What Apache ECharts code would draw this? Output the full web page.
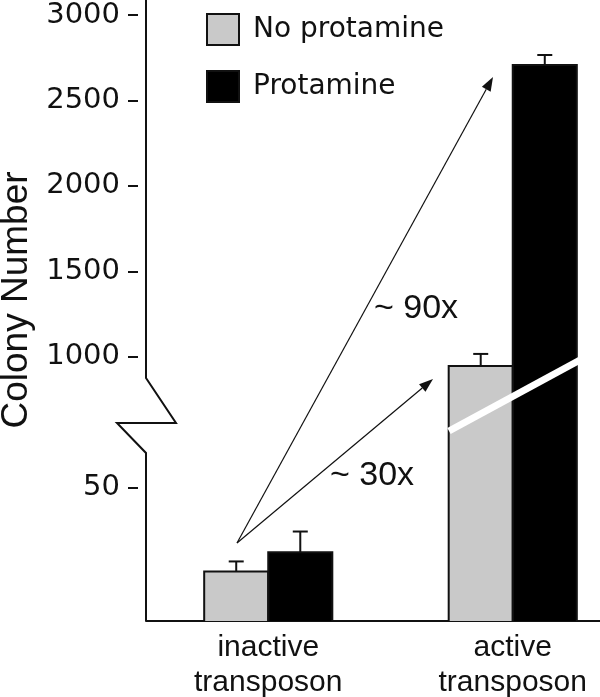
<!DOCTYPE html>
<html><head><meta charset="utf-8">
<script src="https://cdn.jsdelivr.net/npm/echarts@6/dist/echarts.min.js"></script>
<style>html,body{margin:0;padding:0;background:#fff}#c{width:600px;height:697px}</style>
</head><body><div id="c"></div>
<script>
// ---- data ----
const categories = ['inactive\ntransposon', 'active\ntransposon'];
const seriesNames = ['No protamine', 'Protamine'];
const noProtamine = [18.5, 946];
const protamine = [25.7, 2707];
const noProtamineErr = [3.8, 70];
const protamineErr = [7.8, 59];
const upperTicks = [1000, 1500, 2000, 2500, 3000];
const lowerTicks = [50];
const foldLabels = ['~ 90x', '~ 30x'];

// ---- layout / style ----
const LOWER = {top: 453, height: 168, min: 0, max: 62.9};
const UPPER = {top: 0, height: 453, min: 436, max: 3088};
const GRID_LEFT = 146, GRID_WIDTH = 489;
const GRAY = '#c9c9c9', BLACK = '#000', INK = '#111';
const BAR_FRAC = 0.262;
const TICK_FONT = 'DejaVu Sans';
const TEXT_FONT = 'Liberation Sans';

const chart = echarts.init(document.getElementById('c'));

function makeOutline(sign) {
  return function (params, api) {
    const idx = api.value(0), v = api.value(1), e = api.value(2);
    const cs = params.coordSys;
    const yBottom = cs.y + cs.height;
    const w = api.size([1, 0])[0] * BAR_FRAC;
    const cx = api.coord([idx, v])[0];
    const x0 = sign < 0 ? cx - w : cx, x1 = x0 + w, xm = (x0 + x1) / 2;
    const yRaw = api.coord([idx, v])[1];
    if (yRaw >= yBottom) return null;
    const style = {stroke: INK, lineWidth: 2, fill: null};
    const children = [];
    if (yRaw < cs.y) {
      children.push({type: 'line', shape: {x1: x0, y1: yBottom, x2: x0, y2: cs.y}, style});
      children.push({type: 'line', shape: {x1: x1, y1: yBottom, x2: x1, y2: cs.y}, style});
    } else {
      children.push({type: 'polyline', shape: {points: [[x0, yBottom], [x0, yRaw], [x1, yRaw], [x1, yBottom]]}, style});
      const yErr = api.coord([idx, v + e])[1];
      children.push({type: 'line', shape: {x1: xm, y1: yRaw, x2: xm, y2: yErr}, style});
      children.push({type: 'line', shape: {x1: xm - 7.5, y1: yErr, x2: xm + 7.5, y2: yErr}, style});
    }
    return {type: 'group', children};
  };
}

const groups = [
  {name: seriesNames[0], values: noProtamine, errs: noProtamineErr, color: GRAY, sign: -1},
  {name: seriesNames[1], values: protamine, errs: protamineErr, color: BLACK, sign: 1}
];

const series = [];
[0, 1].forEach(function (g) {
  groups.forEach(function (grp) {
    series.push({
      type: 'bar', name: grp.name, xAxisIndex: g, yAxisIndex: g,
      data: grp.values, barWidth: (BAR_FRAC * 100) + '%', barGap: '0%',
      clip: true, itemStyle: {color: grp.color, borderWidth: 0}, z: 2,
      emphasis: {disabled: true}
    });
  });
  groups.forEach(function (grp) {
    series.push({
      type: 'custom', name: grp.name, xAxisIndex: g, yAxisIndex: g, z: 3, clip: false,
      renderItem: makeOutline(grp.sign),
      encode: {x: 0, y: 1},
      data: grp.values.map(function (v, i) { return [i, v, grp.errs[i]]; })
    });
  });
});

function yAxisCfg(gridIndex, rng, ticks) {
  return {
    type: 'value', gridIndex: gridIndex, min: rng.min, max: rng.max, offset: 8,
    axisLine: {show: false}, splitLine: {show: false},
    axisTick: {show: true, length: 10, customValues: ticks, lineStyle: {color: INK, width: 2}},
    axisLabel: {show: true, margin: 18, customValues: ticks, color: INK,
      fontFamily: TICK_FONT, fontSize: 29,
      formatter: function (v) { return String(Math.round(v)); }}
  };
}

function arrow(x1, y1, x2, y2) {
  const a = Math.atan2(y2 - y1, x2 - x1), L = 14, H = 5;
  const bx = x2 - L * Math.cos(a), by = y2 - L * Math.sin(a);
  const px = -Math.sin(a) * H, py = Math.cos(a) * H;
  return [
    {type: 'line', z: 20, shape: {x1: x1, y1: y1, x2: bx, y2: by}, style: {stroke: INK, lineWidth: 1.2}},
    {type: 'polygon', z: 20, shape: {points: [[x2, y2], [bx + px, by + py], [bx - px, by - py]]}, style: {fill: INK}}
  ];
}

const graphics = [
  {type: 'polyline', z: 20, shape: {points: [[146, 0], [146, 378], [176, 423], [117, 423], [146, 453], [146, 621]]},
   style: {stroke: INK, lineWidth: 2, fill: null}},
  {type: 'line', z: 15, shape: {x1: 449, y1: 431, x2: 580, y2: 360}, style: {stroke: '#fff', lineWidth: 7}},
  {type: 'text', z: 20, x: 17, y: 300, rotation: Math.PI / 2,
   style: {text: 'Colony Number', fill: INK, font: '37px "' + TEXT_FONT + '"', align: 'center', verticalAlign: 'middle'}},
  {type: 'text', z: 20, x: 374, y: 309,
   style: {text: foldLabels[0], fill: INK, font: '34px "' + TEXT_FONT + '"', align: 'left', verticalAlign: 'middle'}},
  {type: 'text', z: 20, x: 330, y: 476,
   style: {text: foldLabels[1], fill: INK, font: '34px "' + TEXT_FONT + '"', align: 'left', verticalAlign: 'middle'}}
].concat(arrow(237, 543, 493, 77)).concat(arrow(237, 543, 433, 379));

chart.setOption({
  animation: false,
  backgroundColor: '#fff',
  legend: {
    data: seriesNames, orient: 'vertical', left: 206, top: 13, padding: 0,
    itemWidth: 32, itemHeight: 31, itemGap: 24, icon: 'rect',
    itemStyle: {borderColor: INK, borderWidth: 2},
    textStyle: {fontFamily: TICK_FONT, fontSize: 28, color: INK, padding: [0, 0, 0, 9]},
    selectedMode: false
  },
  grid: [
    {left: GRID_LEFT, width: GRID_WIDTH, top: LOWER.top, height: LOWER.height, outerBoundsMode: 'none', containLabel: false},
    {left: GRID_LEFT, width: GRID_WIDTH, top: UPPER.top, height: UPPER.height, outerBoundsMode: 'none', containLabel: false}
  ],
  xAxis: [
    {type: 'category', gridIndex: 0, data: categories,
     axisLine: {show: true, lineStyle: {color: INK, width: 2}}, axisTick: {show: false},
     axisLabel: {color: INK, fontFamily: TEXT_FONT, fontSize: 30, lineHeight: 35, margin: 9}},
    {type: 'category', gridIndex: 1, data: categories, show: false}
  ],
  yAxis: [yAxisCfg(0, LOWER, lowerTicks), yAxisCfg(1, UPPER, upperTicks)],
  series: series,
  graphic: graphics
});
</script></body></html>
